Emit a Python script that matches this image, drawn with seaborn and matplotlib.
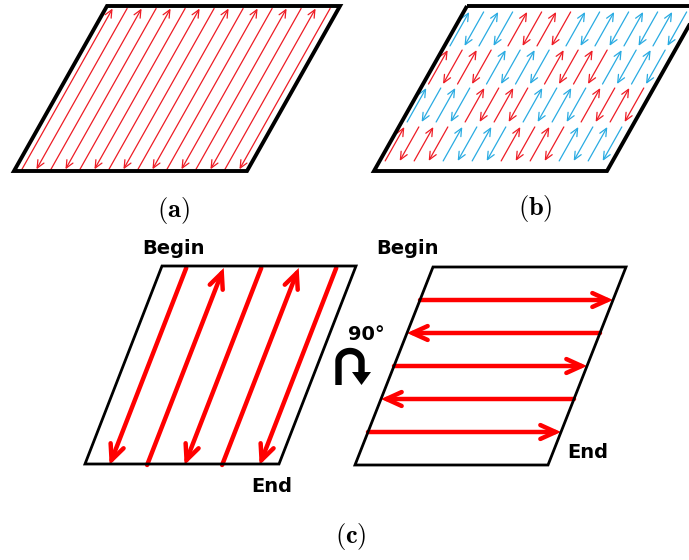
import seaborn as sns
import matplotlib.pyplot as plt
import numpy as np
from matplotlib.patches import FancyArrowPatch, Polygon

# scan direction of every track, 1 = up / right, -1 = down / left
a_directions = [1, -1, 1, -1, 1, -1, 1, -1, 1, -1, 1, -1, 1, -1, 1, -1]
b_block_pattern = [1, -1, 1, -1]
b_row_colors = [['blue', 'red', 'blue', 'blue'],
                ['red', 'blue', 'red', 'blue'],
                ['blue', 'red', 'blue', 'red'],
                ['red', 'blue', 'red', 'blue']]
c_left_directions = [-1, 1, -1, 1, -1]
c_right_directions = [1, -1, 1, -1, 1]
panel_labels = ['(a)', '(b)', '(c)']
begin_text = 'Begin'
end_text = 'End'
rot_text = '90°'

RED = '#ee1c25'
RED_C = '#ff0000'
BLUE = '#29abe2'
colmap = {'red': RED, 'blue': BLUE}

sns.set_theme(style='white')
plt.rcParams['mathtext.fontset'] = 'cm'
plt.rcParams['font.family'] = ['DejaVu Sans']

fig = plt.figure(figsize=(6.89, 5.6), dpi=100)
ax = fig.add_axes([0, 0, 1, 1])
ax.set_xlim(0, 689)
ax.set_ylim(560, 0)
ax.axis('off')

# parallelograms: x0 (bottom left), y bottom, width, height, shear
panels = {'a': (14, 171, 233, 165, 93),
          'b': (374, 171, 233, 165, 93),
          'c1': (85, 464, 194, 198, 77),
          'c2': (355, 465, 193, 198, 78)}


def pt(p, u, v):
    x0, yb, w, h, sh = panels[p]
    return (x0 + u + v * sh, yb - v * h)


def outline(k, lw):
    x0, yb, w, h, sh = panels[k]
    corners = [pt(k, 0, 1), pt(k, w, 1), pt(k, w, 0), pt(k, 0, 0)]
    ax.add_patch(Polygon(corners, closed=True, fill=False, edgecolor='black',
                         lw=lw, joinstyle='miter', zorder=3))


def arrow(p0, p1, color, lw, hl, hw):
    ax.add_patch(FancyArrowPatch(p0, p1,
                                 arrowstyle=f'->,head_length={hl},head_width={hw}',
                                 color=color, lw=lw, mutation_scale=1,
                                 shrinkA=0, shrinkB=0, joinstyle='miter'))


outline('a', 2.8)
outline('b', 2.8)
outline('c1', 2.0)
outline('c2', 2.0)

# (a) full-length alternating tracks
for i, d in enumerate(a_directions):
    u = 7 + 14.5 * i
    lo, hi = pt('a', u, 0.01), pt('a', u, 0.985)
    if d > 0:
        arrow(lo, hi, RED, 0.9, 5.5, 2.5)
    else:
        arrow(hi, lo, RED, 0.9, 5.5, 2.5)

# (b) island / stripe pattern
row_v = [(0.758, 0.964), (0.527, 0.733), (0.297, 0.503), (0.061, 0.267)]
for r, blocks in enumerate(b_row_colors):
    v0, v1 = row_v[r]
    for b, c in enumerate(blocks):
        for j, d in enumerate(b_block_pattern):
            u = 5.5 + 14.5 * (4 * b + j)
            lo, hi = pt('b', u, v0), pt('b', u, v1)
            if d > 0:
                arrow(lo, hi, colmap[c], 0.9, 5.5, 2.5)
            else:
                arrow(hi, lo, colmap[c], 0.9, 5.5, 2.5)

# (c) left: tracks along the long edge
for i, d in enumerate(c_left_directions):
    u = 25 + 37.5 * i
    lo, hi = pt('c1', u, -0.005), pt('c1', u, 0.99)
    if d > 0:
        arrow(lo, hi, RED_C, 3.2, 11, 5)
    else:
        arrow(hi, lo, RED_C, 3.2, 11, 5)

# (c) right: tracks rotated by 90 degrees
w2 = panels['c2'][2]
for k, d in enumerate(c_right_directions):
    v = (5 - k) / 6
    left, right = pt('c2', 0, v), pt('c2', w2, v)
    if d > 0:
        arrow(left, right, RED_C, 3.2, 11, 5)
    else:
        arrow(right, left, RED_C, 3.2, 11, 5)

# rotation symbol
t = np.linspace(np.pi, 0, 30)
xs = np.concatenate([[338.5], 350 + 11.5 * np.cos(t), [361.5]])
ys = np.concatenate([[385], 361 - 10 * np.sin(t), [372]])
sns.lineplot(x=xs, y=ys, sort=False, estimator=None, color='black', lw=4.6,
             solid_capstyle='butt', ax=ax)
ax.add_patch(Polygon([(352, 372), (371, 372), (361.5, 385)], closed=True,
                     color='black', lw=0))
ax.set_xlim(0, 689)
ax.set_ylim(560, 0)
ax.axis('off')

tkw = dict(fontsize=14, fontweight='bold', color='black', ha='center', va='center')
ax.text(173, 248, begin_text, **tkw)
ax.text(407, 249, begin_text, **tkw)
ax.text(272, 487, end_text, **tkw)
ax.text(588, 452, end_text, **tkw)
ax.text(366, 335, rot_text, **tkw)

lkw = dict(fontsize=19, ha='center', va='center', color='black')
ax.text(173, 211, r'$\mathbf{' + panel_labels[0] + '}$', **lkw)
ax.text(535, 208, r'$\mathbf{' + panel_labels[1] + '}$', **lkw)
ax.text(351, 536, r'$\mathbf{' + panel_labels[2] + '}$', **lkw)

fig.savefig('out.png', dpi=100)
